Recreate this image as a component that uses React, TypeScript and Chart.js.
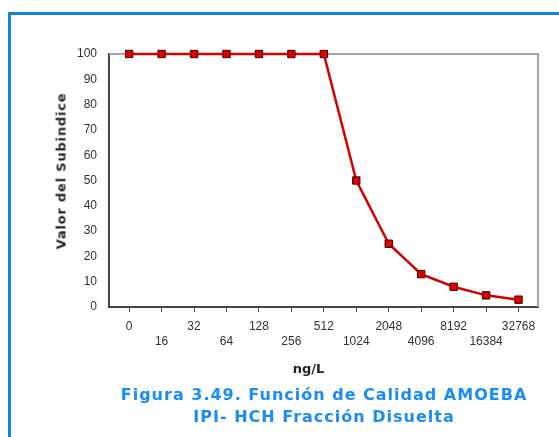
import React, { useEffect, useRef } from "react";
import { Chart, registerables } from "chart.js";

Chart.register(...registerables);

const xLabels = ["0", "16", "32", "64", "128", "256", "512", "1024", "2048", "4096", "8192", "16384", "32768"];
const yValues = [100, 100, 100, 100, 100, 100, 100, 50, 25, 13, 8, 4.6, 2.9];
const yTicks = [0, 10, 20, 30, 40, 50, 60, 70, 80, 90, 100];
const yTitle = "Valor del Subindice";
const xTitle = "ng/L";
const captionLines = ["Figura 3.49. Función de Calidad AMOEBA", "IPI- HCH Fracción Disuelta"];

const framePlugin = {
  id: "frameTR",
  beforeDatasetsDraw(chart: any) {
    const { ctx, chartArea } = chart;
    const { left, right, top, bottom } = chartArea;
    ctx.save();
    ctx.strokeStyle = "#a4a4a4";
    ctx.lineWidth = 2;
    ctx.beginPath();
    ctx.moveTo(left, top);
    ctx.lineTo(right, top);
    ctx.lineTo(right, bottom);
    ctx.stroke();
    ctx.restore();
  },
};

export default function App() {
  const ref = useRef<HTMLCanvasElement | null>(null);

  useEffect(() => {
    if (!ref.current) return;
    const chart = new Chart(ref.current, {
      type: "line",
      data: {
        datasets: [
          {
            data: yValues.map((v, i) => ({ x: i, y: v })),
            borderColor: "#d40000",
            borderWidth: 2.5,
            backgroundColor: "#e00000",
            pointStyle: "rect",
            pointRadius: 5.2,
            pointBorderColor: "#3a0000",
            pointBorderWidth: 1,
            pointBackgroundColor: "#e00000",
            tension: 0,
            clip: false as any,
          },
        ],
      },
      options: {
        animation: false,
        responsive: false,
        layout: { padding: { left: 0, top: 54, right: 21, bottom: 0 } },
        plugins: { legend: { display: false }, tooltip: { enabled: false }, title: { display: false } },
        scales: {
          x: {
            type: "linear",
            min: -0.62,
            max: 12.6,
            afterBuildTicks: (scale: any) => {
              scale.ticks = xLabels.map((_, i) => ({ value: i }));
            },
            afterFit: (scale: any) => {
              scale.height = 130;
            },
            grid: { drawOnChartArea: false, drawTicks: true, tickLength: 5, color: "#555", lineWidth: 1 },
            border: { display: true, color: "#444", width: 2 },
            ticks: {
              autoSkip: false,
              maxRotation: 0,
              minRotation: 0,
              padding: 7,
              color: "#333",
              font: { family: "'Liberation Sans', Arial, sans-serif", size: 12, lineHeight: 1.28 },
              callback: (v: any) => {
                const i = Math.round(Number(v));
                const lab = xLabels[i] ?? "";
                return i % 2 === 0 ? [lab, ""] : ["", lab];
              },
            },
          },
          y: {
            min: 0,
            max: 100,
            afterBuildTicks: (scale: any) => {
              scale.ticks = yTicks.map((v) => ({ value: v }));
            },
            afterFit: (scale: any) => {
              scale.width = 109;
            },
            grid: { drawOnChartArea: false, drawTicks: false },
            border: { display: true, color: "#444", width: 2 },
            ticks: {
              padding: 12,
              color: "#333",
              font: { family: "'Liberation Sans', Arial, sans-serif", size: 12 },
            },
          },
        },
      },
      plugins: [framePlugin],
    });
    return () => chart.destroy();
  }, []);

  const font = "'DejaVu Sans', Verdana, sans-serif";

  return (
    <div style={{ position: "absolute", left: 0, top: 0, width: 559, height: 437, overflow: "hidden", background: "#fff" }}>
      <div
        style={{
          position: "absolute",
          left: 8,
          top: 12,
          width: 600,
          height: 500,
          borderLeft: "3px solid #1287d6",
          borderTop: "3px solid #1287d6",
          boxSizing: "border-box",
        }}
      />
      <canvas ref={ref} width={559} height={437} style={{ position: "absolute", left: 0, top: 0, width: 559, height: 437 }} />
      <div
        style={{
          position: "absolute",
          left: 61,
          top: 171,
          transform: "translate(-50%, -50%) rotate(-90deg)",
          whiteSpace: "nowrap",
          fontFamily: font,
          fontWeight: "bold",
          fontSize: 13,
          letterSpacing: "0.8px",
          lineHeight: "15px",
          color: "#222",
        }}
      >
        {yTitle}
      </div>
      <div
        style={{
          position: "absolute",
          left: 308.5,
          top: 360.5,
          transform: "translateX(-50%)",
          whiteSpace: "nowrap",
          fontFamily: font,
          fontWeight: "bold",
          fontSize: 13,
          lineHeight: "16px",
          color: "#222",
        }}
      >
        {xTitle}
      </div>
      <div
        style={{
          position: "absolute",
          left: 324,
          top: 383.5,
          transform: "translateX(-50%)",
          whiteSpace: "nowrap",
          textAlign: "center",
          fontFamily: font,
          fontWeight: "bold",
          fontSize: 16,
          letterSpacing: "1px",
          lineHeight: "22px",
          color: "#1a8cf5",
        }}
      >
        {captionLines.map((l, i) => (
          <div key={i}>{l}</div>
        ))}
      </div>
    </div>
  );
}
